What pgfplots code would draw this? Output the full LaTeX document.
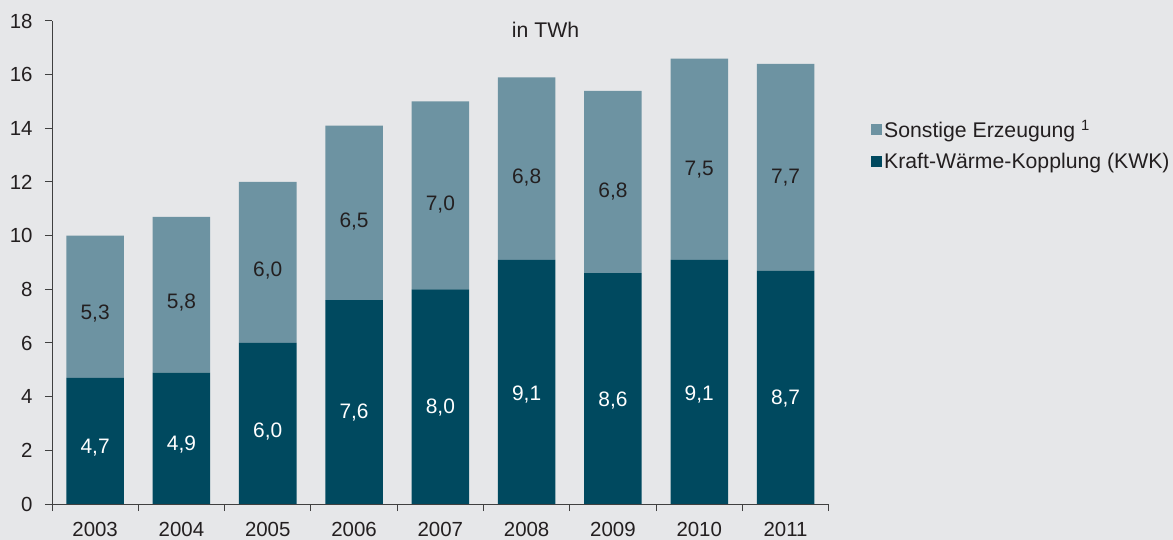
\documentclass[border=0pt]{standalone}
\usepackage{pgfplots}
\usepackage{pgfplotstable}
\pgfplotsset{compat=1.18}
\usepackage{fontspec}
\setmainfont{Liberation Sans}
\definecolor{bg}{HTML}{E6E7E9}
\definecolor{kwk}{HTML}{00495F}
\definecolor{sonst}{HTML}{6D93A2}
\definecolor{txt}{HTML}{231F20}
\definecolor{axisgray}{HTML}{404040}
\makeatletter
\pgfplotsset{
  nodes near coords vertically centered/.style={
    every node near coord/.append style={
      anchor=center,
      /pgfplots/calculate offset/.code={
        \pgfkeys{/pgf/fpu=true,/pgf/fpu/output format=fixed}
        \pgfmathsetmacro\testmacro{\pgfplotspointmeta*\pgfplots@y@veclength/2}
        \pgfkeys{/pgf/fpu=false}
      },
      /pgfplots/calculate offset,
      yshift=-\testmacro
    }
  }
}
\makeatother
\pgfplotstableread{
x kwk sonst
0 4.7 5.3
1 4.9 5.8
2 6.0 6.0
3 7.6 6.5
4 8.0 7.0
5 9.1 6.8
6 8.6 6.8
7 9.1 7.5
8 8.7 7.7
}\data
\begin{document}
\begin{tikzpicture}
\fill[bg] (0,0) rectangle (1173bp,540bp);
\begin{axis}[
  at={(52bp,36bp)}, anchor=south west,
  scale only axis, width=776.7bp, height=483bp,
  xmin=-0.5, xmax=8.5, ymin=0, ymax=18,
  ybar stacked, bar width=57.5bp,
  axis x line*=bottom, axis y line*=left,
  axis line style={draw=axisgray, line width=1bp},
  xtick={-0.5,0.5,...,8.5}, xticklabels={},
  extra x ticks={0,1,2,3,4,5,6,7,8},
  extra x tick labels={2003,2004,2005,2006,2007,2008,2009,2010,2011},
  extra x tick style={major tick length=0pt},
  ytick={0,2,...,18},
  tick align=outside, major tick length=7bp,
  tick style={draw=axisgray, line width=1bp},
  /pgf/number format/assume math mode=true,
  ticklabel style={font=\fontsize{20.5}{24}\selectfont, text=txt},
  xticklabel style={yshift=-15bp},
  yticklabel style={xshift=-9bp},
  nodes near coords={\pgfmathprintnumber[use comma,fixed,fixed zerofill,precision=1]{\pgfplotspointmeta}},
  nodes near coords vertically centered,
  every node near coord/.append style={font=\fontsize{21}{24}\selectfont},
  reverse legend,
  legend style={at={(1.0506,0.743)}, anchor=west, draw=none, fill=none,
    font=\fontsize{21.3}{25}\selectfont, text=txt, row sep=10bp,
    nodes={inner sep=2bp}},
  legend cell align=left,
]
\addplot[fill=kwk, draw=none, every node near coord/.append style={text=white},
  legend image code/.code={\fill[kwk] (0bp,-5.5bp) rectangle (11bp,5.5bp);}]
  table[x=x, y=kwk] {\data};
\addlegendentry{Kraft-Wärme-Kopplung (KWK)}
\addplot[fill=sonst, draw=none, every node near coord/.append style={text=txt},
  legend image code/.code={\fill[sonst] (0bp,-5.5bp) rectangle (11bp,5.5bp);}]
  table[x=x, y=sonst] {\data};
\addlegendentry{Sonstige Erzeugung \textsuperscript{1}}
\node[font=\fontsize{21.3}{25}\selectfont, text=txt] at (rel axis cs:0.6355,0.981) {in TWh};
\end{axis}
\pgfresetboundingbox
\path[use as bounding box] (0,0) rectangle (1173bp,540bp);
\end{tikzpicture}
\end{document}
